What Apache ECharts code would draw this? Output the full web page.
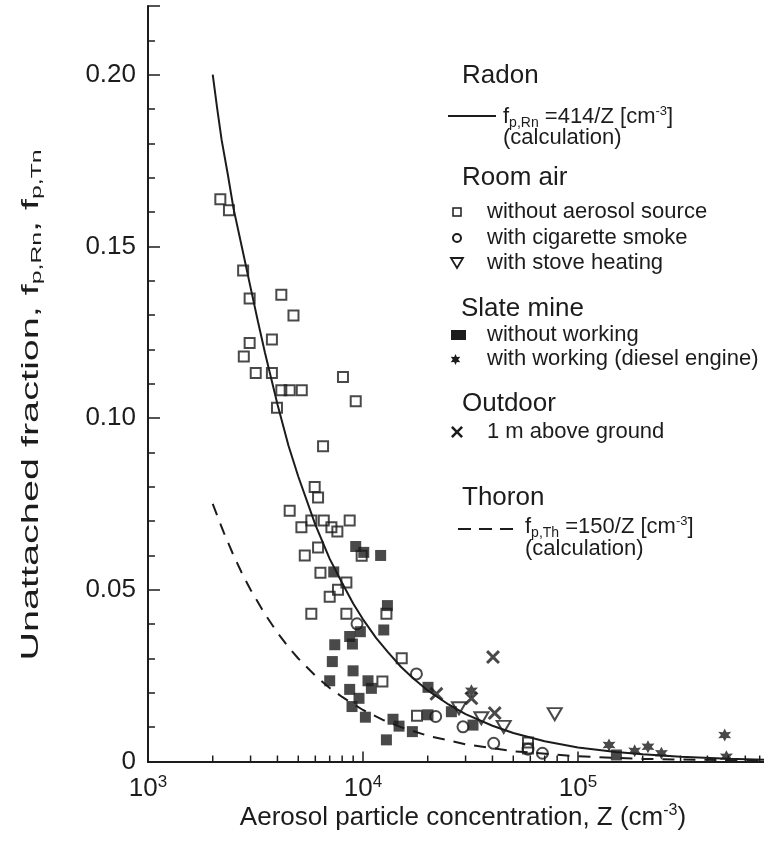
<!DOCTYPE html>
<html>
<head>
<meta charset="utf-8">
<script src="https://cdn.jsdelivr.net/npm/echarts@6/dist/echarts.min.js"></script>
<style>
  html, body { margin: 0; padding: 0; background: #fff; }
  #main { width: 764px; height: 852px; }
</style>
</head>
<body>
<div id="main"></div>
<script>
// values: [Z (cm^-3), unattached fraction]
var radonCurve = [[2000,0.200],[2100,0.190],[2200,0.181],[2350,0.171],[2500,0.161],[2750,0.149],[3000,0.138],
  [3250,0.128],[3500,0.119],[4000,0.104],[4500,0.092],[5000,0.083],[6000,0.069],[7000,0.059],[8000,0.052],
  [9000,0.046],[10000,0.0414],[11500,0.036],[13000,0.032],[15000,0.0276],[17000,0.0244],[20000,0.0207],
  [25000,0.0166],[30000,0.0138],[40000,0.0104],[50000,0.0083],[70000,0.0059],[100000,0.0041],
  [150000,0.0028],[200000,0.0021],[300000,0.0014],[500000,0.0008],[780000,0.0005]];
var thoronCurve = [[2000,0.075],[2250,0.0667],[2500,0.060],[2750,0.0545],[3000,0.050],[3500,0.0429],
  [4000,0.0375],[4500,0.0333],[5000,0.030],[6000,0.025],[7000,0.0214],[8000,0.0188],[10000,0.015],
  [12500,0.012],[15000,0.010],[20000,0.0075],[30000,0.005],[50000,0.003],[100000,0.0015],
  [200000,0.00075],[780000,0.0002]];

var roomNoSource = [[2170,0.1637],[2380,0.1605],[2770,0.1430],[2970,0.1348],[4170,0.1359],[4750,0.1299],
  [2970,0.1219],[2790,0.1179],[3770,0.1229],[3170,0.1131],[3770,0.1131],[4170,0.1081],[4560,0.1081],
  [5190,0.1081],[8070,0.1120],[9250,0.1049],[3980,0.1030],[6520,0.0918],[5960,0.0799],[6180,0.0769],
  [4560,0.0730],[5170,0.0682],[5750,0.0702],[6570,0.0702],[7130,0.0682],[7600,0.0670],[8670,0.0702],
  [6180,0.0623],[5360,0.0600],[6340,0.0550],[8370,0.0521],[7650,0.0500],[7000,0.0480],[9860,0.0599],
  [5750,0.0430],[8370,0.0430],[12850,0.0430],[15140,0.0301],[12310,0.0233],[17830,0.0133],
  [58540,0.0055],[58540,0.0038]];
var roomSmoke = [[9380,0.0401],[17720,0.0255],[21780,0.0131],[29180,0.0101],[40540,0.0053],
  [58540,0.0036],[68300,0.0024]];
var roomStove = [[27960,0.0155],[35530,0.0126],[45120,0.0101],[77930,0.0138]];
var mineIdle = [[9250,0.0626],[10080,0.0609],[12080,0.0600],[7310,0.0552],[12990,0.0454],[9720,0.0378],
  [8670,0.0364],[7390,0.0340],[8930,0.0342],[12490,0.0383],[7200,0.0291],[8990,0.0264],[7000,0.0235],
  [8670,0.0210],[10550,0.0235],[10940,0.0213],[9580,0.0184],[8890,0.0160],[10260,0.0129],[13790,0.0123],
  [14710,0.0103],[16970,0.0087],[12850,0.0063],[20060,0.0216],[20060,0.0136],[25770,0.0145],
  [32480,0.0106],[150900,0.0019]];
var mineDiesel = [[31930,0.0206],[139400,0.0048],[183500,0.0031],[211600,0.0043],[244300,0.0024],
  [481200,0.0077],[490000,0.0014]];
var outdoor = [[21950,0.0197],[31930,0.0184],[40240,0.0304],[40980,0.0141]];

// minor tick positions on the log axis
var minorXTicks = [2000,3000,4000,5000,6000,7000,8000,9000,
  20000,30000,40000,50000,60000,70000,80000,90000,
  200000,300000,400000,500000,600000,700000,800000,900000];

var INK = '#1c1c1c';
var FONT = '"Liberation Sans", Arial, Helvetica, sans-serif';
var starPts = [[10,0],[12.5,5.5],[18.7,5],[15,10],[18.7,15],[12.5,14.5],[10,20],[7.5,14.5],[1.3,15],[5,10],[1.3,5],[7.5,5.5]];
var crossPts = [[0,3],[3,0],[10,7],[17,0],[20,3],[13,10],[20,17],[17,20],[10,13],[3,20],[0,17],[7,10]];
function toPath(pts) {
	return 'path://' + pts.map(function (p, i) { return (i ? 'L' : 'M') + p[0] + ',' + p[1]; }).join(' ') + ' Z';
}
function placePts(pts, x, y, s) {
	return pts.map(function (p) { return [x + p[0] * s, y + p[1] * s]; });
}
var hollow = { color: 'rgba(255,255,255,0)', borderColor: INK, borderWidth: 2 };

var myChart = echarts.init(document.getElementById('main'));

function txt(x, y, text, size, rich) {
	return {
		type: 'text', x: x, y: y, silent: true,
		style: { text: text, font: size + 'px ' + FONT, fill: INK, verticalAlign: 'middle', align: 'left', rich: rich || {} }
	};
}
var formulaRich = {
	sub: { fontSize: 14, fontFamily: FONT, fill: INK, padding: [12, 0, 0, 0] },
	sup: { fontSize: 13, fontFamily: FONT, fill: INK, padding: [0, 0, 12, 0] }
};

var option = {
	animation: false,
	backgroundColor: '#fff',
	grid: { left: 148, top: 6, width: 645, height: 755.5, outerBoundsMode: 'none', containLabel: false },
	xAxis: [{
		type: 'log', logBase: 10, min: 1000, max: 1000000,
		axisLine: { lineStyle: { color: INK, width: 2 } },
		axisTick: { inside: true, length: 10, lineStyle: { color: INK, width: 1.5 } },
		splitLine: { show: false },
		axisLabel: {
			margin: 12, color: INK, fontSize: 26, fontFamily: FONT,
			formatter: function (v) { return '10{sup|' + Math.round(Math.log(v) / Math.LN10) + '}'; },
			rich: { sup: { fontSize: 17, fontFamily: FONT, color: INK, padding: [0, 0, 14, 0] } }
		}
	}, {
		type: 'log', logBase: 10, min: 1000, max: 1000000, position: 'top',
		axisLine: { lineStyle: { color: INK, width: 2 } },
		axisTick: { show: false }, axisLabel: { show: false }, splitLine: { show: false }
	}],
	yAxis: [{
		type: 'value', min: 0, max: 0.22, interval: 0.05, position: 'left',
		axisLine: { show: true, lineStyle: { color: INK, width: 2 } },
		axisTick: { inside: true, length: 12, lineStyle: { color: INK, width: 1.5 } },
		splitLine: { show: false },
		axisLabel: {
			margin: 12, color: INK, fontSize: 26, fontFamily: FONT,
			formatter: function (v) {
				if (v === 0) return '0';
				if (Math.abs(v * 20 - Math.round(v * 20)) > 1e-6) return '';
				return v.toFixed(2);
			}
		}
	}, {
		type: 'value', min: 0, max: 0.22, interval: 0.01, position: 'left',
		axisLine: { show: false },
		axisTick: { inside: true, length: 7, lineStyle: { color: INK, width: 1.5 } },
		axisLabel: { show: false }, splitLine: { show: false }
	}],
	graphic: [
		// axis titles
		{
			type: 'text', x: 463, y: 818, silent: true,
			style: { text: 'Aerosol particle concentration, Z (cm{sup|-3})', font: '26px ' + FONT, fill: INK,
				align: 'center', verticalAlign: 'middle',
				rich: { sup: { fontSize: 16, fontFamily: FONT, fill: INK, padding: [0, 0, 14, 0] } } }
		},
		{
			type: 'text', x: 31, y: 405, rotation: Math.PI / 2, scaleX: 1.65, silent: true,
			style: { text: 'Unattached fraction, f{sub|p,Rn}, f{sub|p,Tn}', font: '24px ' + FONT, fill: INK,
				align: 'center', verticalAlign: 'middle',
				rich: { sub: { fontSize: 15, fontFamily: FONT, fill: INK, padding: [12, 0, 0, 0] } } }
		},
		// legend block
		txt(462, 76, 'Radon', 26),
		{ type: 'line', silent: true, shape: { x1: 448, y1: 116, x2: 496, y2: 116 }, style: { stroke: INK, lineWidth: 2 } },
		txt(503, 117, 'f{sub|p,Rn} =414/Z [cm{sup|-3}]', 22, formulaRich),
		txt(503, 138, '(calculation)', 22),
		txt(462, 178, 'Room air', 26),
		{ type: 'rect', silent: true, shape: { x: 453, y: 208, width: 8, height: 8 }, style: { fill: 'none', stroke: INK, lineWidth: 1.5 } },
		txt(487, 212, 'without aerosol source', 22),
		{ type: 'circle', silent: true, shape: { cx: 457, cy: 238, r: 4 }, style: { fill: 'none', stroke: INK, lineWidth: 2 } },
		txt(487, 238, 'with cigarette smoke', 22),
		{ type: 'polygon', silent: true, shape: { points: [[451, 258], [463, 258], [457, 268]] }, style: { fill: 'none', stroke: INK, lineWidth: 1.8 } },
		txt(487, 263, 'with stove heating', 22),
		txt(461, 309, 'Slate mine', 26),
		{ type: 'rect', silent: true, shape: { x: 451, y: 330, width: 15, height: 10 }, style: { fill: INK } },
		txt(487, 335, 'without working', 22),
		{ type: 'polygon', silent: true, shape: { points: placePts(starPts, 450, 354, 0.55) }, style: { fill: INK } },
		txt(487, 359, 'with working (diesel engine)', 22),
		txt(462, 404, 'Outdoor', 26),
		{ type: 'polygon', silent: true, shape: { points: placePts(crossPts, 451, 426, 0.6) }, style: { fill: INK } },
		txt(487, 432, '1 m above ground', 22),
		txt(462, 498, 'Thoron', 26),
		{ type: 'line', silent: true, shape: { x1: 458, y1: 529, x2: 519, y2: 529 }, style: { stroke: INK, lineWidth: 2, lineDash: [13, 8] } },
		txt(525, 527, 'f{sub|p,Th} =150/Z [cm{sup|-3}]', 22, formulaRich),
		txt(525, 549, '(calculation)', 22)
	],
	series: [
		{
			name: 'Radon 414/Z', type: 'line', data: radonCurve, showSymbol: false,
			lineStyle: { color: INK, width: 2 }, z: 2, silent: true
		},
		{
			name: 'Thoron 150/Z', type: 'line', data: thoronCurve, showSymbol: false,
			lineStyle: { color: INK, width: 2, type: [12, 9] }, z: 2, silent: true
		},
		{
			name: 'without aerosol source', type: 'scatter', data: roomNoSource, symbol: 'rect', symbolSize: 10,
			itemStyle: hollow, z: 3
		},
		{
			name: 'with cigarette smoke', type: 'scatter', data: roomSmoke, symbol: 'circle', symbolSize: 11,
			itemStyle: hollow, z: 3
		},
		{
			name: 'with stove heating', type: 'scatter', data: roomStove, symbol: 'triangle', symbolRotate: 180,
			symbolSize: [14, 12], itemStyle: hollow, z: 3
		},
		{
			name: 'without working', type: 'scatter', data: mineIdle, symbol: 'rect', symbolSize: 11,
			itemStyle: { color: INK }, z: 4
		},
		{
			name: 'with working (diesel engine)', type: 'scatter', data: mineDiesel, symbol: toPath(starPts), symbolSize: 13,
			itemStyle: { color: INK }, z: 4
		},
		{
			name: '1 m above ground', type: 'scatter', data: outdoor, symbol: toPath(crossPts), symbolSize: 14,
			itemStyle: { color: INK }, z: 4
		},
		{
			// minor ticks of the log axis
			type: 'custom', data: minorXTicks.map(function (v) { return [v, 0]; }), silent: true, clip: false, z: 5,
			renderItem: function (params, api) {
				var p = api.coord([api.value(0), 0]);
				return { type: 'line', shape: { x1: p[0], y1: p[1], x2: p[0], y2: p[1] - 6 }, style: { stroke: INK, lineWidth: 1.5 } };
			}
		}
	]
};
myChart.setOption(option);
</script>
</body>
</html>
